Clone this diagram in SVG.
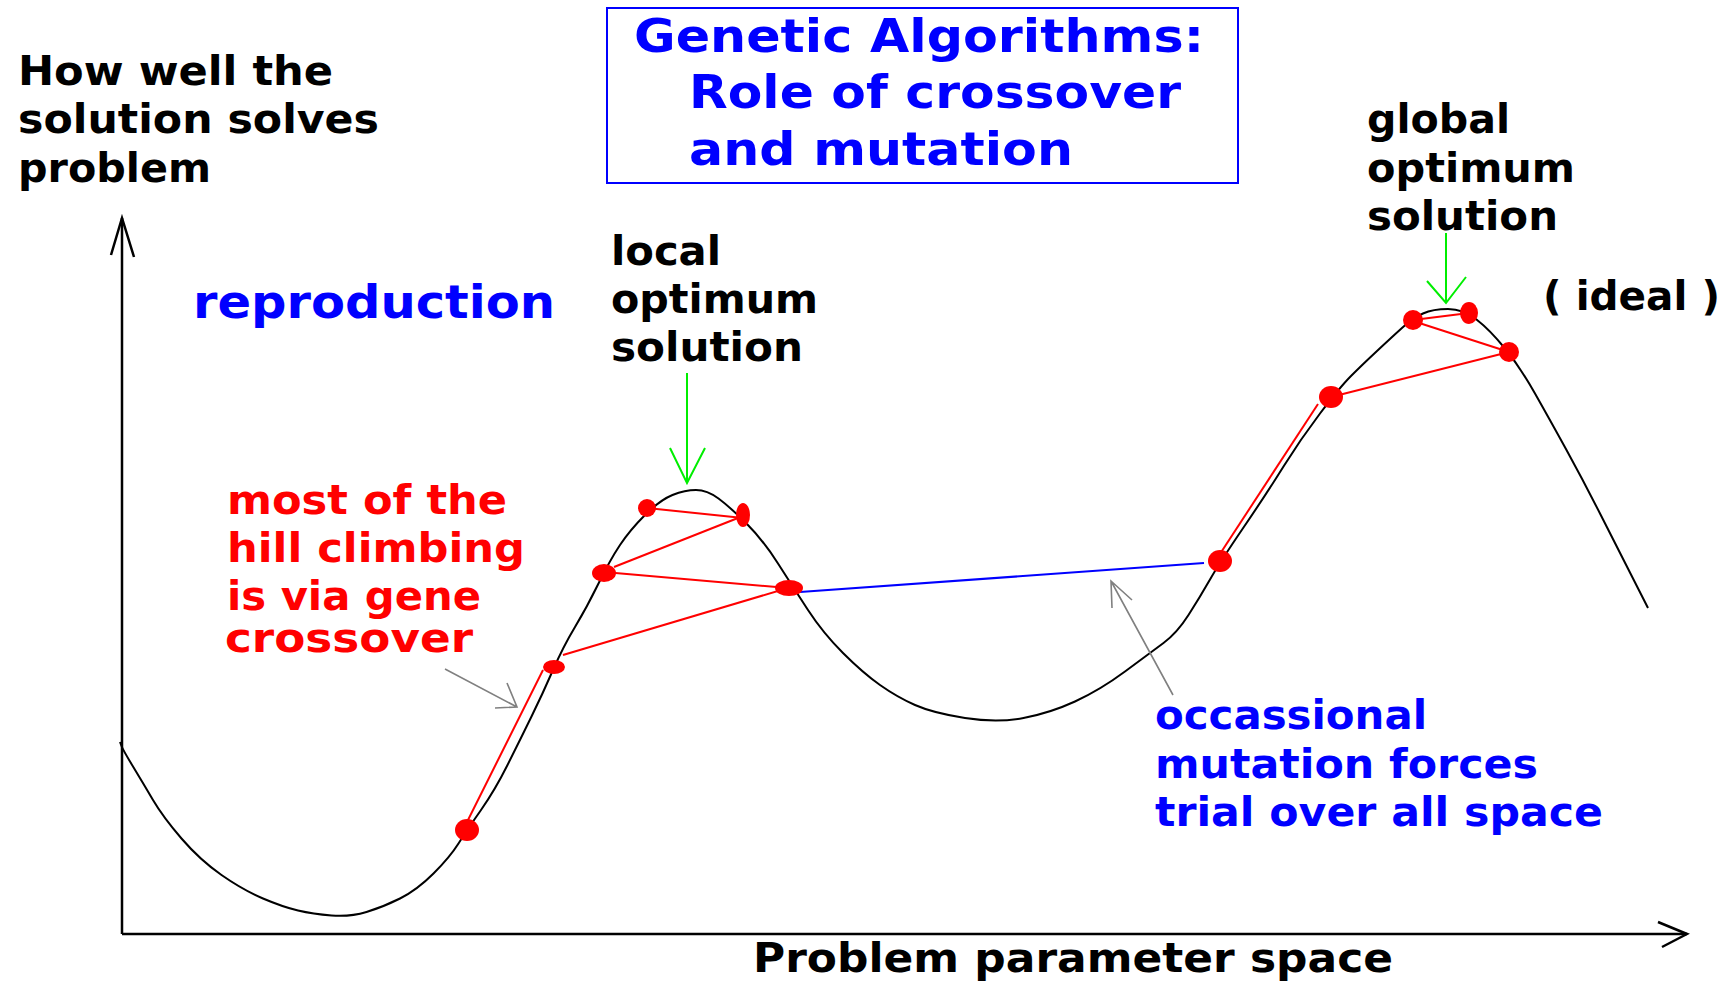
<svg xmlns="http://www.w3.org/2000/svg" width="1723" height="983" viewBox="0 0 1723 983">
<style>
text{font-family:"DejaVu Sans","Liberation Sans",sans-serif;font-weight:bold}
.k{fill:#000;font-size:41px}
.b{fill:#0000ff}
.r{fill:#ff0000;font-size:40px}
.t{font-size:46px}
.m{font-size:40px}
.ax{stroke:#000;stroke-width:2.5;fill:none}
.curve{stroke:#000;stroke-width:2;fill:none;stroke-linejoin:round}
.rl{stroke:#ff0000;stroke-width:2;fill:none}
.bl{stroke:#0000ff;stroke-width:2.2;fill:none}
.gr{stroke:#00ee00;stroke-width:2;fill:none}
.gy{stroke:#808080;stroke-width:1.6;fill:none}
.dot{fill:#ff0000}
</style>
<rect width="1723" height="983" fill="#fff"/>
<g id="connectors">
  <g id="axes">
    <path class="ax" d="M122 934 V218"/>
    <path class="ax" d="M111 255 L122 218 L134 257"/>
    <path class="ax" d="M122 934 H1687"/>
    <path class="ax" d="M1658 922 L1687 934 L1662 947"/>
  </g>
  <path id="fitness-curve" class="curve" d="M120 742 L121.5 746 Q123 750 133 766.5 Q143 783 153 800 Q163 817 181.5 838.5 Q200 860 221.5 875 Q243 890 263 898.5 Q283 907 298 910.5 Q313 914 331.5 915.5 Q350 917 366.5 912 Q383 907 400 898.5 Q417 890 433.5 873.5 Q450 857 458.5 843.5 Q467 830 481 810 Q495 790 507.5 765 Q520 740 531.5 716.5 Q543 693 553 670 Q563 647 575 627 Q587 607 598.5 583.5 Q610 560 620 545 Q630 530 645 515 Q660 500 672.5 495 Q685 490 696 490 Q707 490 718.5 498.5 Q730 507 746.5 523.5 Q763 540 778 563.5 Q793 587 808 610 Q823 633 843 653 Q863 673 880 685 Q897 697 915 705 Q933 713 965 718 Q997 723 1023.5 718 Q1050 713 1075 701.5 Q1100 690 1125 671.5 Q1150 653 1163.5 643 Q1177 633 1188.5 615 Q1200 597 1210 579.5 Q1220 562 1243.5 527.5 Q1267 493 1283.5 466.5 Q1300 440 1320 413.5 Q1340 387 1351 376 Q1362 365 1377 351 Q1392 337 1402.5 327.5 Q1413 318 1423 313.5 Q1433 309 1448 309 Q1463 309 1476.5 319.5 Q1490 330 1505 348.5 Q1520 367 1535 393.5 Q1550 420 1566.5 450 Q1583 480 1600 513.5 Q1617 547 1632.5 577.5 L1648 608"/>
  <g id="crossover-lines">
    <path class="rl" d="M464 828 L543 670"/>
    <path class="rl" d="M563 655 L788 588"/>
    <path class="rl" d="M604 572 L788 588"/>
    <path class="rl" d="M614 567 L743 516"/>
    <path class="rl" d="M647 508 L743 518"/>
    <path class="rl" d="M1216 560 L1318 404"/>
    <path class="rl" d="M1331 397 L1509 352"/>
    <path class="rl" d="M1509 352 L1413 321"/>
    <path class="rl" d="M1413 320 L1469 313"/>
  </g>
  <path id="mutation-line" class="bl" d="M800 592 L1204 563"/>
  <g id="local-arrow"><path class="gr" d="M687 373 V483 M670 448 L687 483 L705 448"/></g>
  <g id="global-arrow"><path class="gr" d="M1446 233 V303 M1427 281 L1446 303 L1466 277"/></g>
  <g id="hill-arrow"><path class="gy" d="M445 669 L517 707 M507 683 L517 707 L495 708"/></g>
  <g id="mutation-arrow"><path class="gy" d="M1173 695 L1111 581 M1112 608 L1111 581 L1132 600"/></g>
  <g id="population">
    <ellipse class="dot" cx="467" cy="830" rx="12" ry="11"/>
    <ellipse class="dot" cx="554" cy="667" rx="11" ry="7"/>
    <ellipse class="dot" cx="604" cy="573" rx="12" ry="9"/>
    <ellipse class="dot" cx="647" cy="508" rx="9" ry="9"/>
    <ellipse class="dot" cx="743" cy="515" rx="7" ry="12"/>
    <ellipse class="dot" cx="789" cy="588" rx="14" ry="8"/>
    <ellipse class="dot" cx="1220" cy="561" rx="12" ry="11"/>
    <ellipse class="dot" cx="1331" cy="397" rx="12" ry="11"/>
    <ellipse class="dot" cx="1413" cy="320" rx="10" ry="10"/>
    <ellipse class="dot" cx="1469" cy="313" rx="9" ry="11"/>
    <ellipse class="dot" cx="1509" cy="352" rx="10" ry="10"/>
  </g>
</g>
<g id="title">
  <rect x="607" y="8" width="631" height="175" fill="none" stroke="#0000ff" stroke-width="2"/>
  <text class="b t" x="634" y="52" textLength="570" lengthAdjust="spacingAndGlyphs">Genetic Algorithms:</text>
  <text class="b t" x="689" y="108" textLength="492" lengthAdjust="spacingAndGlyphs">Role of crossover</text>
  <text class="b t" x="689" y="165" textLength="384" lengthAdjust="spacingAndGlyphs">and mutation</text>
</g>
<g id="y-label">
  <text class="k" x="18" y="85" textLength="315" lengthAdjust="spacingAndGlyphs">How well the</text>
  <text class="k" x="18" y="133" textLength="361" lengthAdjust="spacingAndGlyphs">solution solves</text>
  <text class="k" x="18" y="182" textLength="193" lengthAdjust="spacingAndGlyphs">problem</text>
</g>
<g id="reproduction">
  <text class="b t" x="193" y="318" textLength="362" lengthAdjust="spacingAndGlyphs">reproduction</text>
</g>
<g id="local-optimum">
  <text class="k" x="611" y="265" textLength="110" lengthAdjust="spacingAndGlyphs">local</text>
  <text class="k" x="611" y="313" textLength="207" lengthAdjust="spacingAndGlyphs">optimum</text>
  <text class="k" x="611" y="361" textLength="192" lengthAdjust="spacingAndGlyphs">solution</text>
</g>
<g id="global-optimum">
  <text class="k" x="1367" y="133" textLength="143" lengthAdjust="spacingAndGlyphs">global</text>
  <text class="k" x="1367" y="182" textLength="208" lengthAdjust="spacingAndGlyphs">optimum</text>
  <text class="k" x="1367" y="230" textLength="191" lengthAdjust="spacingAndGlyphs">solution</text>
</g>
<g id="ideal">
  <text class="k" x="1543" y="310" textLength="177" lengthAdjust="spacingAndGlyphs">( ideal )</text>
</g>
<g id="hill-climbing">
  <text class="r" x="227" y="514" textLength="280" lengthAdjust="spacingAndGlyphs">most of the</text>
  <text class="r" x="227" y="562" textLength="298" lengthAdjust="spacingAndGlyphs">hill climbing</text>
  <text class="r" x="227" y="610" textLength="254" lengthAdjust="spacingAndGlyphs">is via gene</text>
  <text class="r" x="225" y="652" textLength="248" lengthAdjust="spacingAndGlyphs">crossover</text>
</g>
<g id="mutation-note">
  <text class="b m" x="1155" y="729" textLength="272" lengthAdjust="spacingAndGlyphs">occassional</text>
  <text class="b m" x="1155" y="778" textLength="383" lengthAdjust="spacingAndGlyphs">mutation forces</text>
  <text class="b m" x="1155" y="826" textLength="448" lengthAdjust="spacingAndGlyphs">trial over all space</text>
</g>
<g id="x-label">
  <text class="k m" x="753" y="972" textLength="640" lengthAdjust="spacingAndGlyphs">Problem parameter space</text>
</g>
</svg>
